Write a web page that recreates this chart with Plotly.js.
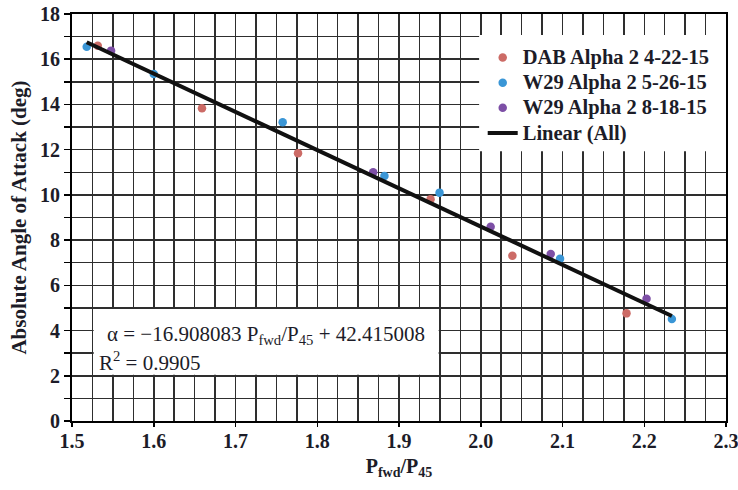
<!DOCTYPE html>
<html>
<head>
<meta charset="utf-8">
<script src="https://cdn.plot.ly/plotly-3.0.1.min.js"></script>
<style>
  html, body { margin: 0; padding: 0; background: #fff; }
  #chart { width: 738px; height: 490px; }
</style>
</head>
<body>
<div id="chart"></div>
<script>
// Pressure ratio P_fwd/P_45 against absolute angle of attack, three test runs
const dabX  = [1.5315, 1.659, 1.7765, 1.9386, 2.0387, 2.1783];
const dabY  = [16.60, 13.83, 11.84, 9.81, 7.31, 4.76];
const w29aX = [1.518, 1.600, 1.7577, 1.8822, 1.9496, 2.097, 2.2338];
const w29aY = [16.55, 15.35, 13.21, 10.84, 10.10, 7.18, 4.51];
const w29bX = [1.5478, 1.8684, 2.0121, 2.0856, 2.2028];
const w29bY = [16.38, 11.00, 8.59, 7.39, 5.41];

const seriesNames = ['DAB Alpha 2 4-22-15', 'W29 Alpha 2 5-26-15', 'W29 Alpha 2 8-18-15', 'Linear (All)'];

// Least-squares fit over all runs
const fitSlope = -16.908083;
const fitIntercept = 42.415008;
const fitR2 = 0.9905;

const allX = dabX.concat(w29aX, w29bX);
const fitX = [Math.min(...allX), Math.max(...allX)];
const fitY = fitX.map(v => fitSlope * v + fitIntercept);

const serif = 'Liberation Serif, Times New Roman, serif';
const ink = '#1c1c28';
const grid = '#2e2e2e';

// legend rows stay compact while the label glyphs are drawn larger
const legendLabel = s => '<span style="font-size:20.5px">' + s + '</span>';

function dots(x, y, name, color) {
  return { x, y, name: legendLabel(name), type: 'scatter', mode: 'markers',
           marker: { color, size: 8.5, line: { width: 0 } }, hoverinfo: 'skip' };
}

const traces = [
  dots(dabX, dabY, seriesNames[0], '#cc6b66'),
  dots(w29aX, w29aY, seriesNames[1], '#3a96d6'),
  dots(w29bX, w29bY, seriesNames[2], '#7d4fa6'),
  { x: fitX, y: fitY, name: legendLabel(seriesNames[3]), type: 'scatter', mode: 'lines',
    line: { color: '#111', width: 4 }, hoverinfo: 'skip' }
];

const eqText = '\u03B1 = \u221216.908083 P<sub>fwd</sub>/P<sub>45</sub> + 42.415008';
const r2Text = 'R<sup>2</sup> = ' + fitR2.toFixed(4);

const layout = {
  width: 738, height: 490,
  margin: { l: 72, r: 12, t: 14, b: 69 },
  paper_bgcolor: '#fff', plot_bgcolor: '#fff',
  font: { family: serif, color: ink },
  showlegend: true,
  legend: {
    x: 0.628, xanchor: 'left', y: 0.936, yanchor: 'top',
    bgcolor: 'rgba(0,0,0,0)', borderwidth: 0,
    font: { family: serif, size: 17, weight: 'bold', color: ink },
    traceorder: 'normal'
  },
  xaxis: {
    range: [1.5, 2.3], tick0: 1.5, dtick: 0.1, tickformat: '.1f',
    showgrid: true, gridcolor: grid, gridwidth: 1.5,
    minor: { dtick: 0.025, showgrid: true, gridcolor: grid, gridwidth: 1.5 },
    ticks: 'outside', ticklen: 4, tickwidth: 1.5, tickcolor: '#000',
    ticklabelstandoff: -3,
    showline: true, mirror: true, linecolor: '#000', linewidth: 2,
    zeroline: false, ticklabeloverflow: 'allow',
    tickfont: { family: serif, size: 20, weight: 'bold', color: ink },
    title: { text: 'P<sub>fwd</sub>/P<sub>45</sub>', standoff: 8,
             font: { family: serif, size: 20, weight: 'bold', color: ink } }
  },
  yaxis: {
    range: [0, 18], tick0: 0, dtick: 2,
    showgrid: true, gridcolor: grid, gridwidth: 1.5,
    minor: { dtick: 1, showgrid: true, gridcolor: grid, gridwidth: 1.5,
             ticks: 'outside', ticklen: 6, tickwidth: 1.5, tickcolor: '#000' },
    ticks: 'outside', ticklen: 6, tickwidth: 1.5, tickcolor: '#000',
    showline: true, mirror: true, linecolor: '#000', linewidth: 2,
    zeroline: false,
    tickfont: { family: serif, size: 20, weight: 'bold', color: ink },
    title: { text: 'Absolute Angle of Attack (deg)', standoff: 8,
             font: { family: serif, size: 21, weight: 'bold', color: ink } }
  },
  // quarter-degree tick marks just inside the left axis
  yaxis2: {
    overlaying: 'y', side: 'left', anchor: 'x', range: [0, 18],
    tick0: 0, dtick: 0.25, ticks: 'inside', ticklen: 4, tickwidth: 1.2,
    tickcolor: '#000', showticklabels: false, showgrid: false,
    zeroline: false, showline: false
  },
  shapes: [
    // white panel behind the legend
    { type: 'rect', xref: 'x', yref: 'y', x0: 1.998, x1: 2.3, y0: 11.93, y1: 17.07,
      fillcolor: '#fff', line: { width: 0 }, layer: 'between' },
    // white panel behind the fit equation
    { type: 'rect', xref: 'x', yref: 'y', x0: 1.5265, x1: 1.9485, y0: 2.05, y1: 4.95,
      fillcolor: '#fff', line: { width: 0 }, layer: 'between' }
  ],
  annotations: [
    { text: eqText, xref: 'paper', yref: 'paper', x: 0.0505, y: 0.211,
      xanchor: 'left', yanchor: 'middle', showarrow: false,
      font: { family: serif, size: 21, color: ink } },
    { text: r2Text, xref: 'paper', yref: 'paper', x: 0.038, y: 0.147,
      xanchor: 'left', yanchor: 'middle', showarrow: false,
      font: { family: serif, size: 21, color: ink } }
  ]
};

Plotly.newPlot('chart', traces, layout, { staticPlot: true, displayModeBar: false });
</script>
</body>
</html>
